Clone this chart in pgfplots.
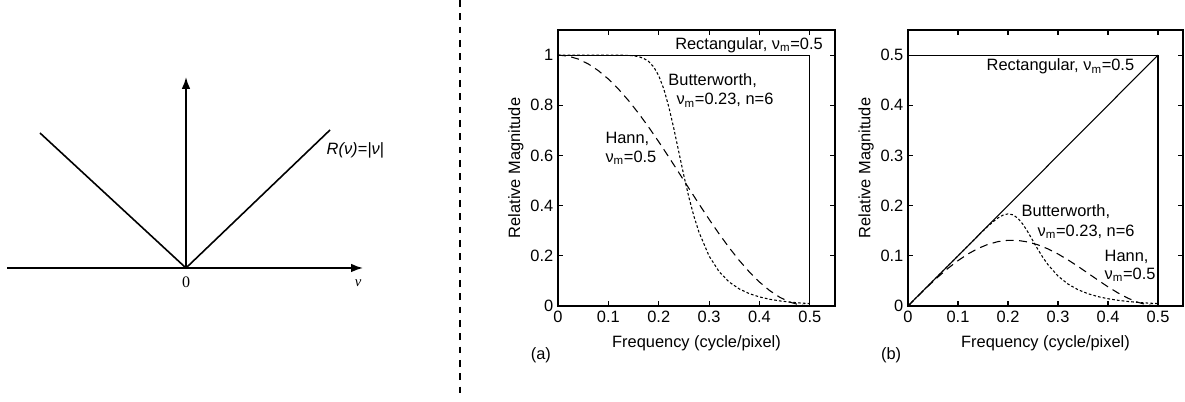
\documentclass[border=0pt]{standalone}
\usepackage{fontspec}
\setmainfont{Liberation Sans}
\newfontfamily\seriffont{Liberation Serif}
\usepackage{pgfplots}
\pgfplotsset{compat=1.18}
\usetikzlibrary{arrows.meta}

\newcommand{\labfont}{\fontsize{12.3}{14}\selectfont}

\pgfplotsset{
  filter axis/.style={
      scale only axis,
      width=207.75pt,
      height=207pt,
      xmin=0, xmax=0.55,
      ymin=0,
      xtick={0,0.1,0.2,0.3,0.4,0.5},
      tick align=inside,
      major tick length=4pt,
      axis line style={line width=0.8pt},
      tick style={line width=0.8pt,black},
      tick label style={font=\labfont},
      label style={font=\labfont},
      /pgf/number format/assume math mode=true,
      clip=false,
      xlabel={Frequency (cycle/pixel)},
      ylabel={Relative Magnitude},
      xlabel style={at={(axis description cs:0.5,-0.135)},anchor=center},
      ylabel style={at={(axis description cs:-0.152,0.5)},anchor=center},
    },
  rect/.style={black,line width=0.8pt},
  hann/.style={black,line width=0.8pt,dash pattern=on 6pt off 4pt},
  butter/.style={black,line width=0.8pt,dash pattern=on 2pt off 1.6pt},
}

\begin{document}
\begin{tikzpicture}
  \useasboundingbox (0,0) rectangle (888.75pt,301.5pt);

  % ------------------------------------------------------------
  % ramp filter sketch
  % ------------------------------------------------------------
  \begin{axis}[
      at={(5.25pt,100.5pt)},
      anchor=south west,
      scale only axis,
      width=267pt,
      height=143.25pt,
      xmin=-179, xmax=177,
      ymin=0, ymax=191,
      hide axis,
      clip=false,
    ]
    \addplot[black,line width=1.2pt] coordinates {(-146,135) (0,0) (144,138)};
    \addplot[black,line width=1.2pt,-{Latex[length=9pt,width=6.5pt]}]
      coordinates {(-179,0) (177,0)};
    \addplot[black,line width=1.2pt,-{Latex[length=9pt,width=6.5pt]}]
      coordinates {(0,0) (0,191)};
    \node[anchor=west,font=\labfont\itshape] at (axis cs:136,118) {R(ν)=|ν|};
    \node[font=\seriffont\fontsize{12}{14}\selectfont] at (axis cs:0,-14) {0};
    \node[font=\seriffont\itshape\fontsize{11}{13}\selectfont] at (axis cs:172,-15) {ν};
  \end{axis}

  % divider
  \draw[line width=1.3pt,dash pattern=on 5pt off 5pt] (345pt,301.5pt) -- (345pt,4.5pt);

  % ------------------------------------------------------------
  % (a) filter magnitude
  % ------------------------------------------------------------
  \begin{axis}[
      filter axis,
      at={(418.5pt,72pt)},
      anchor=south west,
      ymax=1.1,
      ytick={0,0.2,0.4,0.6,0.8,1},
    ]
    \addplot[rect] coordinates {(0,1) (0.5,1) (0.5,0)};

    \addplot[hann] coordinates {
        (0,1) (0.02,0.99606) (0.04,0.98429) (0.06,0.96489) (0.08,0.93815)
        (0.10,0.90451) (0.12,0.86448) (0.14,0.81871) (0.16,0.76791)
        (0.18,0.71289) (0.20,0.65451) (0.22,0.59369) (0.24,0.53140)
        (0.26,0.46860) (0.28,0.40631) (0.30,0.34549) (0.32,0.28711)
        (0.34,0.23209) (0.36,0.18129) (0.38,0.13552) (0.40,0.09549)
        (0.42,0.06185) (0.44,0.03511) (0.46,0.01571) (0.48,0.00394)
        (0.50,0)
      };

    \addplot[butter] coordinates {
        (0,1) (0.10,1) (0.12,0.9998) (0.14,0.9987) (0.15,0.9971)
        (0.16,0.9937) (0.17,0.9870) (0.18,0.9746) (0.19,0.9529)
        (0.20,0.9180) (0.21,0.8654) (0.22,0.7939) (0.23,0.7071)
        (0.24,0.6124) (0.25,0.5185) (0.26,0.4322) (0.27,0.3569)
        (0.28,0.2937) (0.30,0.1990) (0.32,0.1366) (0.34,0.0954)
        (0.36,0.0679) (0.38,0.0491) (0.40,0.0361) (0.42,0.0270)
        (0.44,0.0204) (0.46,0.0156) (0.48,0.0121) (0.50,0.0095)
      };

    \node[anchor=east,font=\labfont] at (axis cs:0.535,1.04) {Rectangular, ν\textsubscript{m}=0.5};
    \node[anchor=west,font=\labfont] at (axis cs:0.210,0.90) {Butterworth,};
    \node[anchor=west,font=\labfont] at (axis cs:0.226,0.82) {ν\textsubscript{m}=0.23, n=6};
    \node[anchor=west,font=\labfont] at (axis cs:0.085,0.665) {Hann,};
    \node[anchor=west,font=\labfont] at (axis cs:0.085,0.59) {ν\textsubscript{m}=0.5};
    \node[anchor=west,font=\labfont] at (rel axis cs:-0.115,-0.178) {(a)};
  \end{axis}

  % ------------------------------------------------------------
  % (b) filter times ramp
  % ------------------------------------------------------------
  \begin{axis}[
      filter axis,
      at={(681pt,72pt)},
      anchor=south west,
      width=206.25pt,
      ymax=0.55,
      ytick={0,0.1,0.2,0.3,0.4,0.5},
    ]
    \addplot[rect] coordinates {(0,0.5) (0.5,0.5) (0.5,0)};
    \addplot[rect] coordinates {(0,0) (0.5,0.5)};

    \addplot[hann] coordinates {
        (0,0) (0.02,0.01992) (0.04,0.03937) (0.06,0.05789) (0.08,0.07505)
        (0.10,0.09045) (0.12,0.10374) (0.14,0.11462) (0.16,0.12287)
        (0.18,0.12832) (0.20,0.13090) (0.22,0.13061) (0.24,0.12754)
        (0.26,0.12184) (0.28,0.11377) (0.30,0.10365) (0.32,0.09188)
        (0.34,0.07891) (0.36,0.06526) (0.38,0.05150) (0.40,0.03820)
        (0.42,0.02598) (0.44,0.01545) (0.46,0.00723) (0.48,0.00189)
        (0.50,0)
      };

    \addplot[butter] coordinates {
        (0,0) (0.10,0.10) (0.12,0.11998) (0.14,0.13982) (0.15,0.14957)
        (0.16,0.15899) (0.17,0.16779) (0.18,0.17543) (0.19,0.18105)
        (0.20,0.18360) (0.21,0.18173) (0.22,0.17466) (0.23,0.16263)
        (0.24,0.14698) (0.25,0.12963) (0.26,0.11237) (0.27,0.09636)
        (0.28,0.08224) (0.30,0.05970) (0.32,0.04371) (0.34,0.03244)
        (0.36,0.02444) (0.38,0.01866) (0.40,0.01444) (0.42,0.01134)
        (0.44,0.00898) (0.46,0.00718) (0.48,0.00581) (0.50,0.00475)
      };

    \node[anchor=west,font=\labfont] at (axis cs:0.148,0.477) {Rectangular, ν\textsubscript{m}=0.5};
    \node[anchor=west,font=\labfont] at (axis cs:0.218,0.188) {Butterworth,};
    \node[anchor=west,font=\labfont] at (axis cs:0.250,0.148) {ν\textsubscript{m}=0.23, n=6};
    \node[anchor=west,font=\labfont] at (axis cs:0.384,0.098) {Hann,};
    \node[anchor=west,font=\labfont] at (axis cs:0.384,0.062) {ν\textsubscript{m}=0.5};
    \node[anchor=west,font=\labfont] at (rel axis cs:-0.115,-0.178) {(b)};
  \end{axis}
\end{tikzpicture}
\end{document}
